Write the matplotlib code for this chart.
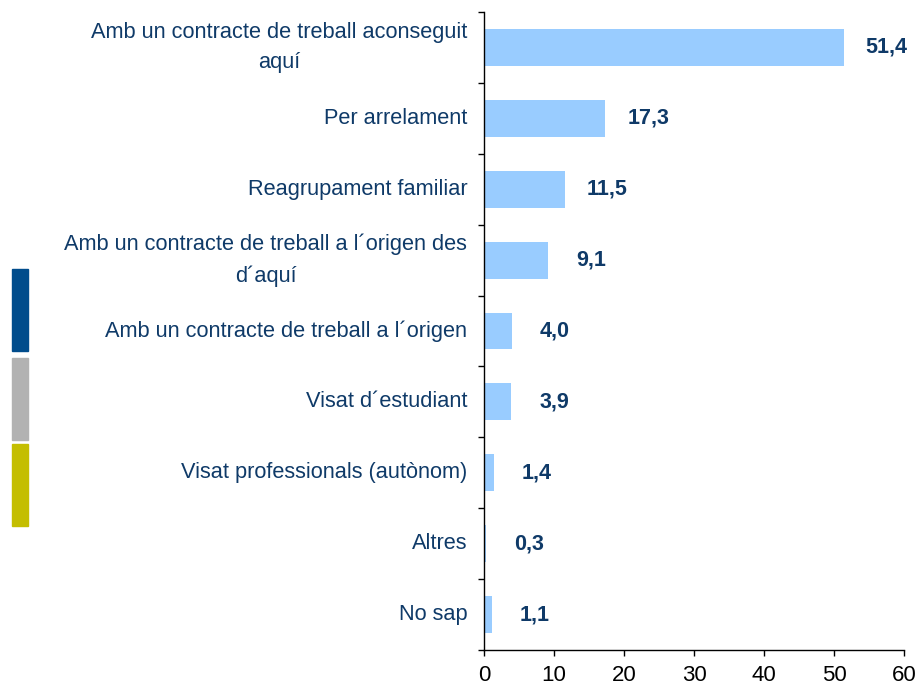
import matplotlib
matplotlib.use("Agg")
import matplotlib.pyplot as plt
from matplotlib.patches import Rectangle

categories = [
    "Amb un contracte de treball aconseguit\naquí",
    "Per arrelament",
    "Reagrupament familiar",
    "Amb un contracte de treball a l´origen des\nd´aquí",
    "Amb un contracte de treball a l´origen",
    "Visat d´estudiant",
    "Visat professionals (autònom)",
    "Altres",
    "No sap",
]
values = [51.4, 17.3, 11.5, 9.1, 4.0, 3.9, 1.4, 0.3, 1.1]
value_labels = ["51,4", "17,3", "11,5", "9,1", "4,0", "3,9", "1,4", "0,3", "1,1"]
xticks = [0, 10, 20, 30, 40, 50, 60]

plt.rcParams['font.family'] = ['Liberation Sans', 'DejaVu Sans']

W, H = 919, 690
fig = plt.figure(figsize=(W / 100, H / 100), dpi=100)
ax = fig.add_axes([484 / W, (H - 650) / H, (904 - 484) / W, (650 - 12) / H])

text_col = "#0F3A68"
y = list(range(len(categories)))
ax.barh(y, values, height=0.52, color="#99CCFF", edgecolor="none")

for yi, v, lab in zip(y, values, value_labels):
    ax.annotate(lab, xy=(v, yi), xytext=(43, 0), textcoords="offset pixels",
                ha="center", va="center", fontsize=15.5, fontweight="bold",
                color=text_col)

ax.set_xlim(0, 60)
ax.set_ylim(len(categories) - 0.5, -0.5)
ax.set_xticks(xticks)
ax.set_xticklabels([str(t) for t in xticks], fontsize=16, color="black")
ax.set_yticks(y)
ax.set_yticklabels(categories, fontsize=15.7, color=text_col,
                   multialignment="center", linespacing=1.6)
for lbl in ax.get_yticklabels():
    lbl.set_verticalalignment("center")
ax.set_yticks([i - 0.5 for i in range(len(categories) + 1)], minor=True)
ax.tick_params(axis="y", which="major", length=0, pad=12)
ax.tick_params(axis="y", which="minor", length=4.5, width=1, direction="out", color="black")
ax.tick_params(axis="x", which="major", length=4.5, width=1, direction="out", pad=6, color="black")

for s in ["top", "right"]:
    ax.spines[s].set_visible(False)
for s in ["left", "bottom"]:
    ax.spines[s].set_color("black")
    ax.spines[s].set_linewidth(1)

stripes = [(269, 351, "#004C8C"), (358, 440, "#B2B2B2"), (444, 526, "#C4BE00")]
for top, bot, col in stripes:
    fig.patches.append(Rectangle((12 / W, (H - bot) / H), 16 / W, (bot - top) / H,
                                 transform=fig.transFigure, color=col, zorder=0))

fig.savefig("out.png", dpi=100, facecolor="white")
